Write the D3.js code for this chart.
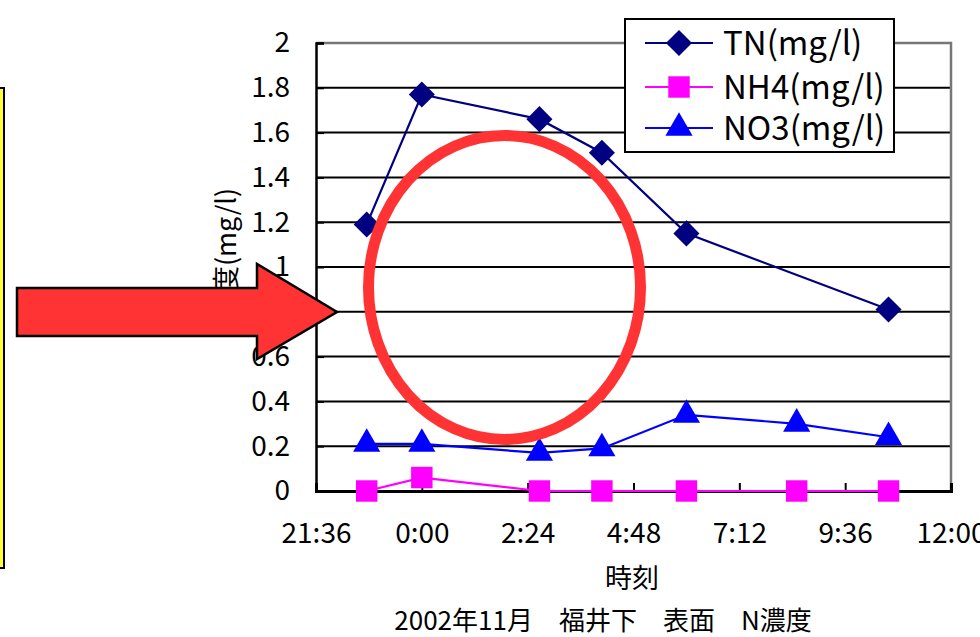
<!DOCTYPE html>
<html><head><meta charset="utf-8">
<script src="https://cdn.jsdelivr.net/npm/d3@7"></script>
<style>html,body{margin:0;padding:0;background:#fff;} svg{display:block;}</style>
</head><body>
<svg id="chart" width="980" height="637"></svg>
<script>
// ---- data ----
const times = ["22:45","0:00","2:40","4:05","6:00","8:30","10:35"];
const tnValues  = [1.19, 1.77, 1.66, 1.51, 1.15, null, 0.81];
const nh4Values = [0, 0.06, 0, 0, 0, 0, 0];
const no3Values = [0.21, 0.21, 0.17, 0.19, 0.34, 0.30, 0.24];
const xTickLabels = ["21:36","0:00","2:24","4:48","7:12","9:36","12:00"];
const yTickValues = [0,0.2,0.4,0.6,0.8,1,1.2,1.4,1.6,1.8,2];
const seriesNames = ["TN(mg/l)","NH4(mg/l)","NO3(mg/l)"];
const xTitle = "時刻";
const yTitle = "濃度(mg/l)";
const chartTitle = "2002年11月\u3000福井下\u3000表面\u3000N濃度";

const FONT = "'Noto Sans CJK JP', 'Noto Sans', sans-serif";
// times from 18:00 onward belong to the first day, earlier ones to the next day
function toDate(s){ const [h,m]=s.split(":").map(Number); return new Date(2002,10,h>=18?14:15,h,m); }

const svg = d3.select("#chart");
const x = d3.scaleTime().domain([toDate(xTickLabels[0]), toDate(xTickLabels[xTickLabels.length-1])]).range([316, 951]);
const y = d3.scaleLinear().domain([0,2]).range([491,43]);

// gridlines
svg.append("g").selectAll("line").data(yTickValues.filter(v=>v>0 && v<2)).join("line")
  .attr("x1", x.range()[0]).attr("x2", x.range()[1])
  .attr("y1", d=>y(d)).attr("y2", d=>y(d))
  .attr("stroke","#000").attr("stroke-width",2);
// plot border (top/right gray)
svg.append("path")
  .attr("d", `M${x.range()[0]},${y(2)}H${x.range()[1]}V${y(0)}`)
  .attr("fill","none").attr("stroke","#777").attr("stroke-width",2.5);

// y axis
const yAxis = svg.append("g").attr("transform",`translate(${x.range()[0]},0)`)
  .call(d3.axisLeft(y).tickValues(yTickValues).tickFormat(d3.format("~g")).tickSize(-8).tickPadding(26));
yAxis.select(".domain").attr("stroke","#000").attr("stroke-width",2.5);
yAxis.selectAll(".tick line").attr("stroke","#000").attr("stroke-width",2);
yAxis.selectAll("text").attr("font-family",FONT).attr("font-size",28).attr("fill","#000");

// x axis
const xTicks = xTickLabels.map(toDate);
const xAxis = svg.append("g").attr("transform",`translate(0,${y(0)})`)
  .call(d3.axisBottom(x).tickValues(xTicks).tickFormat(d3.timeFormat("%-H:%M")).tickSize(-8).tickPadding(0));
xAxis.select(".domain").attr("stroke","#000").attr("stroke-width",3);
xAxis.selectAll(".tick line").attr("stroke","#000").attr("stroke-width",2);
xAxis.selectAll("text").attr("font-family",FONT).attr("font-size",28).attr("fill","#000")
  .attr("y",52).attr("dy",0);

// series
const series = [
  {name: seriesNames[0], values: tnValues,  color:"#000080", symbol:"diamond"},
  {name: seriesNames[1], values: nh4Values, color:"#ff00ff", symbol:"square"},
  {name: seriesNames[2], values: no3Values, color:"#0000ff", symbol:"triangle"}
];
function markerPath(kind){
  if(kind==="diamond") return d3.symbol(d3.symbolSquare, 340)();
  if(kind==="square") return d3.symbol(d3.symbolSquare, 460)();
  return d3.symbol(d3.symbolTriangle, 320)();
}
function markerTransform(kind, px, py){
  return kind==="diamond" ? `translate(${px},${py}) rotate(45)` : `translate(${px},${py})`;
}
const line = d3.line().x(d=>x(d.t)).y(d=>y(d.v));
series.forEach(s=>{
  const pts = times.map((t,i)=>({t:toDate(t), v:s.values[i]})).filter(d=>d.v!==null);
  svg.append("path").datum(pts).attr("d", line).attr("fill","none")
    .attr("stroke", s.color).attr("stroke-width", 2.2);
  s.pts = pts;
});
series.forEach(s=>{
  svg.append("g").selectAll("path").data(s.pts).join("path")
    .attr("d", markerPath(s.symbol))
    .attr("transform", d=>markerTransform(s.symbol, x(d.t), y(d.v)))
    .attr("fill", s.color);
});

// legend
const lg = svg.append("g");
lg.append("rect").attr("x",625).attr("y",19).attr("width",269).attr("height",133)
  .attr("fill","#fff").attr("stroke","#000").attr("stroke-width",2);
const rowY = [43, 87, 128];
series.forEach((s,i)=>{
  lg.append("line").attr("x1",645).attr("x2",713).attr("y1",rowY[i]).attr("y2",rowY[i])
    .attr("stroke",s.color).attr("stroke-width",2.2);
  lg.append("path").attr("d",markerPath(s.symbol)).attr("transform",markerTransform(s.symbol,679,rowY[i]))
    .attr("fill",s.color);
  lg.append("text").attr("x",723).attr("y",rowY[i]+12).text(s.name)
    .attr("font-family",FONT).attr("font-size",33).attr("fill","#000");
});

// titles
svg.append("text").attr("x",632).attr("y",588).attr("text-anchor","middle").text(xTitle)
  .attr("font-family",FONT).attr("font-size",27).attr("fill","#000");
svg.append("text").attr("x",603).attr("y",630).attr("text-anchor","middle").text(chartTitle)
  .attr("font-family",FONT).attr("font-size",26).attr("fill","#000");
svg.append("text").attr("transform","translate(236,254) rotate(-90)").attr("text-anchor","middle").text(yTitle)
  .attr("font-family",FONT).attr("font-size",27).attr("fill","#000");

// overlays: arrow, ellipse, yellow box
svg.append("path")
  .attr("d","M17,288 H257 V264 L337,312 L257,359 V336 H17 Z")
  .attr("fill","#ff3333").attr("stroke","#000").attr("stroke-width",2.5).attr("stroke-linejoin","miter");
svg.append("ellipse").attr("cx",504.5).attr("cy",287.5).attr("rx",136).attr("ry",152)
  .attr("fill","none").attr("stroke","#ff3333").attr("stroke-width",11);
svg.append("rect").attr("x",-10).attr("y",88).attr("width",14).attr("height",480)
  .attr("fill","#ffff33").attr("stroke","#000").attr("stroke-width",2);
</script>
</body></html>
